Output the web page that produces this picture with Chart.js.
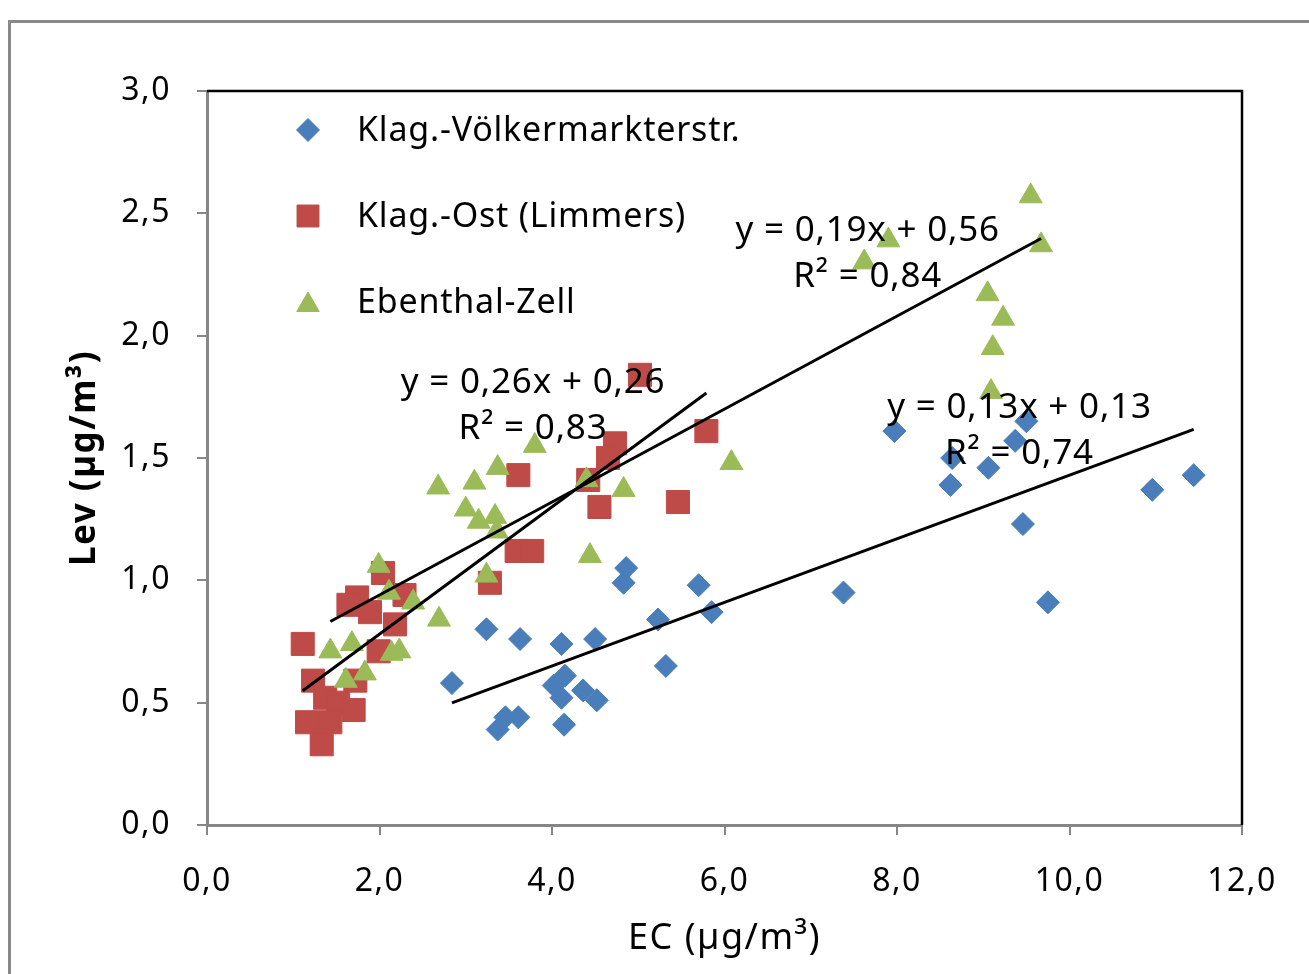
<!DOCTYPE html>
<html>
<head>
<meta charset="utf-8">
<title>Lev vs EC</title>
<script src="https://cdn.jsdelivr.net/npm/chart.js@4/dist/chart.umd.min.js"></script>
<style>
  html, body { margin: 0; padding: 0; background: #fff; }
  #wrap { position: absolute; left: 0; top: 0; width: 1309px; height: 974px; }
</style>
</head>
<body>
<div id="wrap"><canvas id="c" width="1309" height="974"></canvas></div>
<script>
// ---- Series names ----
const seriesNames = ['Klag.-Völkermarkterstr.', 'Klag.-Ost (Limmers)', 'Ebenthal-Zell'];

// ---- Klag.-Völkermarkterstr. (EC, Lev) ----
const voelkerEC = [2.84, 3.24, 3.37, 3.46, 3.61, 3.63, 4.02, 4.11, 4.11, 4.15, 4.14, 4.36, 4.50, 4.52, 4.83, 4.86,
                   5.23, 5.32, 5.70, 5.85, 7.38, 7.97, 8.64, 8.62, 9.06, 9.37, 9.50, 9.46, 9.75, 10.96, 11.44];
const voelkerLev = [0.58, 0.80, 0.39, 0.44, 0.44, 0.76, 0.57, 0.74, 0.52, 0.61, 0.41, 0.55, 0.76, 0.51, 0.99, 1.05,
                    0.84, 0.65, 0.98, 0.87, 0.95, 1.61, 1.50, 1.39, 1.46, 1.57, 1.65, 1.23, 0.91, 1.37, 1.43];

// ---- Klag.-Ost (Limmers) ----
const ostEC = [5.02, 5.79, 4.73, 4.65, 4.42, 3.61, 4.55, 5.46, 3.59, 3.77, 3.28, 2.04, 1.74, 1.64, 1.89, 2.29,
               2.18, 1.11, 1.99, 1.23, 1.72, 1.37, 1.52, 1.70, 1.16, 1.43, 1.33];
const ostLev = [1.84, 1.61, 1.56, 1.50, 1.41, 1.43, 1.30, 1.32, 1.12, 1.12, 0.99, 1.03, 0.93, 0.90, 0.87, 0.94,
                0.82, 0.74, 0.71, 0.59, 0.59, 0.52, 0.50, 0.47, 0.42, 0.42, 0.33];

// ---- Ebenthal-Zell ----
const zellEC = [9.55, 9.67, 7.90, 7.62, 9.05, 9.23, 9.11, 9.09, 6.08, 3.80, 3.37, 3.10, 2.68, 3.00, 3.15, 3.34,
                3.36, 4.40, 4.83, 4.44, 3.24, 1.99, 2.11, 2.39, 2.69, 1.43, 1.68, 2.14, 2.23, 1.83, 1.61];
const zellLev = [2.57, 2.37, 2.39, 2.30, 2.17, 2.07, 1.95, 1.77, 1.48, 1.55, 1.46, 1.40, 1.38, 1.29, 1.24, 1.26,
                 1.20, 1.41, 1.37, 1.10, 1.02, 1.06, 0.95, 0.91, 0.84, 0.71, 0.74, 0.70, 0.71, 0.62, 0.59];

// ---- Linear trendlines (Voelker, Ost, Zell) ----
const trendSlope     = [0.13, 0.26, 0.19];
const trendIntercept = [0.13, 0.26, 0.56];
const trendR2        = [0.74, 0.83, 0.84];

// ---- Axis ticks ----
const xTickValues = [0, 2, 4, 6, 8, 10, 12];
const yTickValues = [0, 0.5, 1, 1.5, 2, 2.5, 3];

// ---- Styling ----
const FONT = "'Noto Sans', 'Open Sans', sans-serif";
const colors = ['#4A7EBB', '#BE4B48', '#9BBB59'];
const pointStyles = ['rectRot', 'rect', 'triangle'];
const pointRadii = [11.5, 16.3, 13.2];
const legendRadii = [11.5, 15.5, 13];

const comma = (v, d) => v.toFixed(d).replace('.', ',');
const toPts = (xs, ys) => xs.map((x, i) => ({ x, y: ys[i] }));

const seriesX = [voelkerEC, ostEC, zellEC];
const seriesY = [voelkerLev, ostLev, zellLev];

const scatterSets = seriesNames.map((name, i) => ({
  type: 'scatter',
  label: name,
  data: toPts(seriesX[i], seriesY[i]),
  pointStyle: pointStyles[i],
  pointRadius: pointRadii[i],
  pointHoverRadius: pointRadii[i],
  backgroundColor: colors[i],
  borderColor: colors[i],
  borderWidth: 1,
  order: 4 - i
}));

const trendSets = seriesNames.map((name, i) => {
  const xs = seriesX[i];
  const x0 = Math.min(...xs), x1 = Math.max(...xs);
  return {
    type: 'line',
    label: 'trend ' + name,
    data: [x0, x1].map(x => ({ x, y: trendSlope[i] * x + trendIntercept[i] })),
    borderColor: '#000',
    borderWidth: 3,
    pointRadius: 0,
    fill: false,
    order: 0
  };
});

// Anchors for the trendline equation boxes, in axis units (centre of first line)
const eqAnchors = [
  { x: 9.42, y: 1.71 },
  { x: 3.78, y: 1.81 },
  { x: 7.66, y: 2.43 }
];

const decor = {
  id: 'decor',
  beforeInit(chart) {
    chart.ctx.letterSpacing = '1.5px';
  },
  beforeDraw(chart) {
    const ctx = chart.ctx;
    ctx.letterSpacing = '1.5px';
    ctx.save();
    ctx.fillStyle = '#fff';
    ctx.fillRect(0, 0, chart.width, chart.height);
    ctx.strokeStyle = '#898989';
    ctx.lineWidth = 3;
    ctx.strokeRect(9.5, 21.5, chart.width + 40, chart.height + 40);
    ctx.restore();
  },
  beforeDatasetsDraw(chart) {
    const { left, top, right, bottom } = chart.chartArea;
    const ctx = chart.ctx;
    ctx.save();
    ctx.strokeStyle = '#000';
    ctx.lineWidth = 2.5;
    ctx.beginPath();
    ctx.moveTo(left, top);
    ctx.lineTo(right, top);
    ctx.lineTo(right, bottom);
    ctx.stroke();
    ctx.restore();
  },
  afterDraw(chart) {
    const ctx = chart.ctx;
    const { left, top } = chart.chartArea;
    const xs = chart.scales.x, ys = chart.scales.y;
    ctx.save();
    // legend inside the plot area
    ctx.textBaseline = 'middle';
    ctx.textAlign = 'left';
    seriesNames.forEach((name, i) => {
      const cy = top + 39 + i * 86;
      ctx.fillStyle = colors[i];
      ctx.strokeStyle = colors[i];
      Chart.helpers.drawPoint(ctx, {
        pointStyle: pointStyles[i],
        radius: legendRadii[i],
        borderWidth: 1,
        rotation: 0
      }, left + 101, cy + (i === 2 ? 3 : 0));
      ctx.fillStyle = '#000';
      ctx.font = '34px ' + FONT;
      ctx.letterSpacing = '0.8px';
      ctx.fillText(name, left + 150, cy + 1);
    });
    // trendline equations
    ctx.font = '35px ' + FONT;
    ctx.letterSpacing = '0.8px';
    ctx.textAlign = 'center';
    eqAnchors.forEach((a, i) => {
      const px = xs.getPixelForValue(a.x);
      const py = ys.getPixelForValue(a.y);
      const eq = 'y = ' + comma(trendSlope[i], 2) + 'x + ' + comma(trendIntercept[i], 2);
      ctx.fillText(eq, px, py + 1);
      ctx.fillText('R² = ' + comma(trendR2[i], 2), px, py + 47);
    });
    ctx.restore();
  }
};

new Chart(document.getElementById('c'), {
  data: { datasets: [...trendSets, ...scatterSets] },
  options: {
    responsive: false,
    animation: false,
    events: [],
    layout: { padding: { top: 91, right: 67, left: 0, bottom: 0 } },
    plugins: { legend: { display: false }, tooltip: { enabled: false } },
    scales: {
      x: {
        type: 'linear',
        min: 0, max: 12,
        afterBuildTicks: s => { s.ticks = xTickValues.map(v => ({ value: v })); },
        afterFit: s => { s.height = 149; },
        border: { display: true, color: '#868686', width: 3 },
        grid: { drawOnChartArea: false, drawTicks: true, tickLength: 10, color: '#868686', lineWidth: 2 },
        ticks: {
          padding: 28,
          color: '#000',
          font: { family: FONT, size: 32 },
          callback: v => comma(v, 1)
        },
        title: {
          display: true,
          text: 'EC (µg/m³)',
          color: '#000',
          font: { family: FONT, size: 36 },
          padding: { top: 0, bottom: 14 }
        }
      },
      y: {
        type: 'linear',
        min: 0, max: 3,
        afterBuildTicks: s => { s.ticks = yTickValues.map(v => ({ value: v })); },
        afterFit: s => { s.width = 207; },
        border: { display: true, color: '#868686', width: 3 },
        grid: { drawOnChartArea: false, drawTicks: true, tickLength: 10, color: '#868686', lineWidth: 2 },
        ticks: {
          padding: 26,
          color: '#000',
          font: { family: FONT, size: 32 },
          callback: v => comma(v, 1)
        },
        title: {
          display: true,
          text: 'Lev (µg/m³)',
          color: '#000',
          font: { family: FONT, size: 35, weight: 'bold' },
          padding: { top: 64, bottom: 0 }
        }
      }
    }
  },
  plugins: [decor]
});
</script>
</body>
</html>
